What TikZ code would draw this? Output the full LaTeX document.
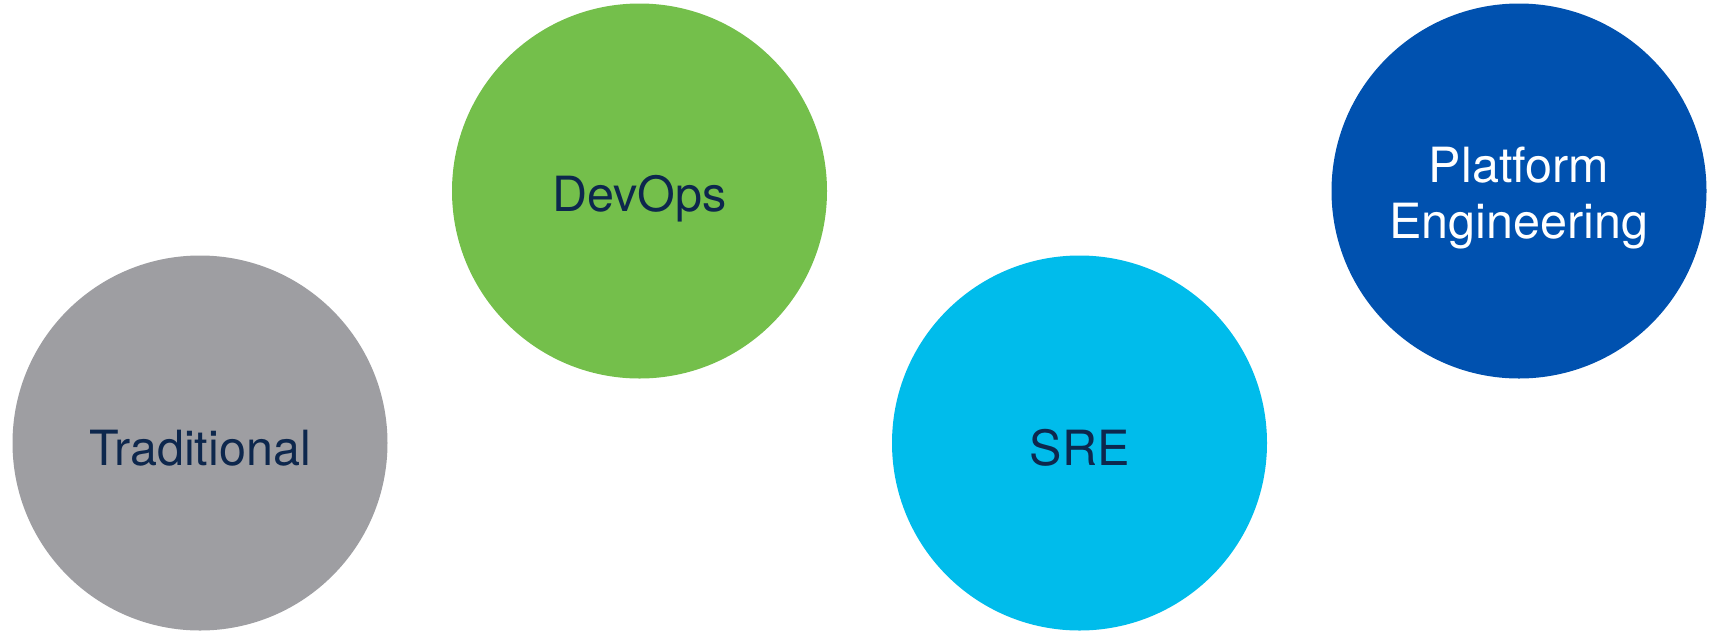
\documentclass[tikz,border=0pt]{standalone}
\usepackage{fontspec}
\setmainfont{TeX Gyre Heros}
\definecolor{cgray}{HTML}{9E9EA2}
\definecolor{cgreen}{HTML}{74BF4B}
\definecolor{ccyan}{HTML}{00BCEB}
\definecolor{cblue}{HTML}{0051AF}
\definecolor{navy}{HTML}{0D274D}
\begin{document}
\begin{tikzpicture}[x=1pt,y=-1pt,
  bubble/.style={circle,minimum size=375pt,inner sep=0pt,draw=none},
  lbl/.style={anchor=base,inner sep=0pt,font=\fontsize{48.5}{56}\selectfont,text=navy}]
\useasboundingbox (0,0) rectangle (1710,633);
\node[bubble,fill=cgray]  (trad) at (200,443) {};
\node[bubble,fill=cgreen] (devops) at (639.5,191) {};
\node[bubble,fill=ccyan]  (sre) at (1079.5,443) {};
\node[bubble,fill=cblue]  (plat) at (1519,191) {};
\node[lbl] (tradt) at (200,465) {Traditional};
\node[lbl] (devopst) at (639.5,211) {DevOps};
\node[lbl] (sret) at (1079.5,465) {SRE};
\node[lbl,text=white] (platt1) at (1519,182) {Platform};
\node[lbl,text=white] (platt2) at (1519,238) {Engineering};
\end{tikzpicture}
\end{document}
